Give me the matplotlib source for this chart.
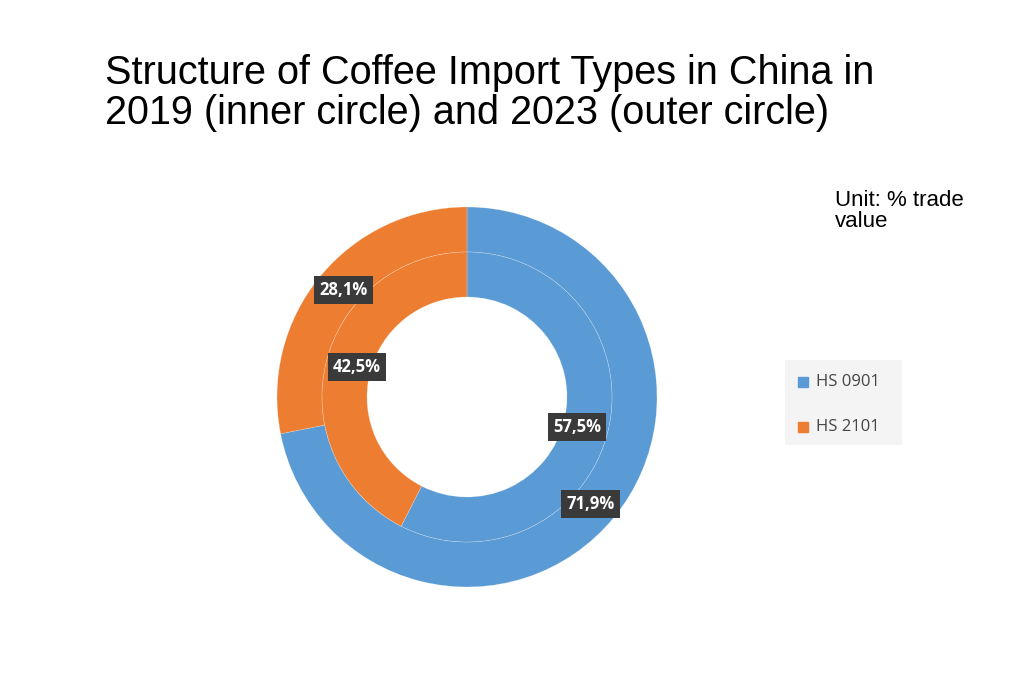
import numpy as np
import matplotlib
matplotlib.use("Agg")
import matplotlib.pyplot as plt

# ---- data ----
CATEGORIES = ["HS 0901", "HS 2101"]
SHARE_2019 = [57.5, 42.5]   # inner circle
SHARE_2023 = [71.9, 28.1]   # outer circle
COLORS = ["#5B9BD5", "#ED7D31"]

W, H = 1027, 689
fig = plt.figure(figsize=(W / 100, H / 100), dpi=100)
fig.patch.set_facecolor("white")

fig.text(105 / W, 1 - 93 / H, "Structure of Coffee Import Types in China in\n"
         "2019 (inner circle) and 2023 (outer circle)",
         fontsize=28.5, family="Liberation Sans", va="center", ha="left", linespacing=1.1)
fig.text(835 / W, 1 - 211 / H, "Unit: % trade\nvalue", fontsize=16,
         family="Liberation Sans", va="center", ha="left", linespacing=1.05)

# pie axes, centre (467, 397) px, radius 190 px
cx, cy, R = 467, 397, 190
ax = fig.add_axes([(cx - R) / W, (H - cy - R) / H, 2 * R / W, 2 * R / H])
ax.set_aspect("equal")

r_mid = 145 / R
r_hole = 100 / R
wp = dict(edgecolor=(1, 1, 1, 0.35), linewidth=0.4)
ax.pie(SHARE_2023, radius=1.0, colors=COLORS, startangle=90, counterclock=False,
       wedgeprops=dict(width=1.0 - r_mid, **wp))
ax.pie(SHARE_2019, radius=r_mid, colors=COLORS, startangle=90, counterclock=False,
       wedgeprops=dict(width=r_mid - r_hole, **wp))
ax.set_xlim(-1, 1)
ax.set_ylim(-1, 1)
ax.axis("off")


def label_ring(values, radius, angle_shift):
    start = 90.0
    for v in values:
        mid = start - v / 100 * 360 / 2
        a = np.deg2rad(mid + angle_shift)
        ax.text(radius * np.cos(a), radius * np.sin(a), f"{v:.1f}%".replace(".", ","),
                ha="center", va="center", color="white", fontsize=12, weight="bold",
                family="Open Sans",
                bbox=dict(boxstyle="square,pad=0.3", facecolor="#3a3a3a", edgecolor="none"))
        start -= v / 100 * 360


label_ring(SHARE_2023, 0.86, -1.5)
label_ring(SHARE_2019, 0.60, -2)

# legend
leg_ax = fig.add_axes([785 / W, 1 - 445 / H, 117 / W, 85 / H])
leg_ax.set_facecolor("#f4f4f4")
leg_ax.set_xticks([]); leg_ax.set_yticks([])
for s in leg_ax.spines.values():
    s.set_visible(False)
leg_ax.set_xlim(0, 117); leg_ax.set_ylim(85, 0)
for i, (cat, col) in enumerate(zip(CATEGORIES, COLORS)):
    y = 22 + i * 45
    leg_ax.add_patch(plt.Rectangle((13, y - 5), 10, 10, color=col))
    leg_ax.text(31, y, cat, va="center", ha="left", fontsize=12, family="Open Sans",
                color="#444444")

fig.savefig("out.png", dpi=100)
